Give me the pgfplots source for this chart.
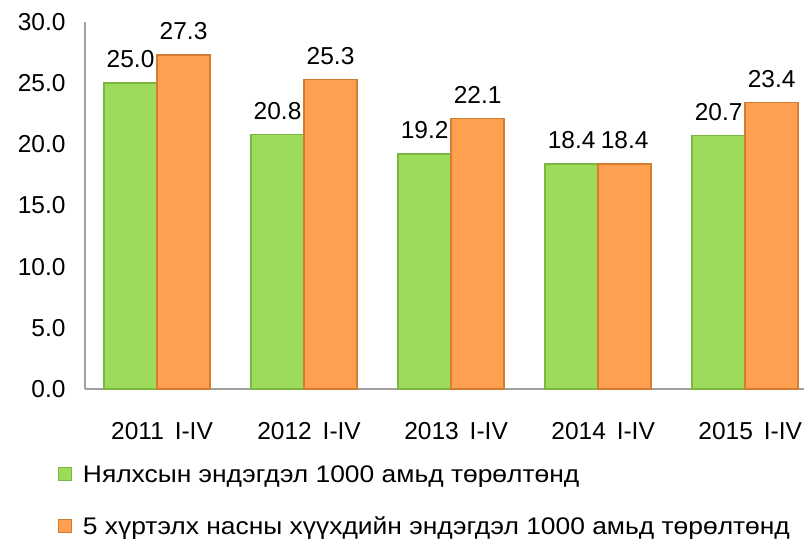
\documentclass[border=0pt]{standalone}
\usepackage{fontspec}
\setmainfont{Liberation Sans}
\newfontfamily\legf{Liberation Sans}[FakeStretch=1.1]
\usepackage{pgfplots}
\pgfplotsset{compat=1.18}
\definecolor{gfill}{HTML}{9CDC5A}
\definecolor{gedge}{HTML}{7AB640}
\definecolor{ofill}{HTML}{FFA050}
\definecolor{oedge}{HTML}{D37C32}
\definecolor{axgray}{HTML}{A0A0A0}
\newcommand{\bigf}{\fontsize{24.5bp}{28bp}\selectfont}
\newcommand{\legfont}{\legf\fontsize{24bp}{27bp}\selectfont}
\begin{document}
\begin{tikzpicture}
\path[use as bounding box] (0bp,0bp) rectangle (806bp,540bp);
\begin{axis}[
  at={(85bp,151bp)}, anchor=south west,
  scale only axis, width=719bp, height=367bp,
  ymin=0, ymax=30, xmin=-0.49, xmax=4.4,
  ybar=0pt, bar width=53bp,
  axis lines*=left,
  axis line style={axgray, line width=1.2bp},
  major tick length=0pt,
  ytick={0,5,...,30},
  xtick={0,1,2,3,4},
  xticklabels={2011 \,I-IV,2012 \,I-IV,2013 \,I-IV,2014 \,I-IV,2015 \,I-IV},
  /pgf/number format/assume math mode=true,
  yticklabel={\pgfmathprintnumber[fixed,fixed zerofill,precision=1]{\tick}},
  ticklabel style={font=\bigf},
  yticklabel style={xshift=-16bp},
  xticklabel style={yshift=-30bp, xshift=5bp},
  nodes near coords={\pgfmathprintnumber[fixed,fixed zerofill,precision=1]{\pgfplotspointmeta}},
  every node near coord/.append style={font=\bigf, black, yshift=11bp},
  legend style={draw=none, fill=none, font=\legfont, at={(-0.0376,-0.203)}, anchor=north west,
    row sep=29bp, column sep=11bp, inner sep=0pt, nodes={inner xsep=0pt}, cells={anchor=west}},
  legend cell align=left,
  legend image code/.code={\draw[#1, line width=0.8bp] (0bp,-6bp) rectangle (13bp,7bp);},
  clip=false,
]
\addplot[draw=gedge, line width=1.4bp, fill=gfill] coordinates {(0,25.0) (1,20.8) (2,19.2) (3,18.4) (4,20.7)};
\addplot[draw=oedge, line width=1.4bp, fill=ofill] coordinates {(0,27.3) (1,25.3) (2,22.1) (3,18.4) (4,23.4)};
\legend{Нялхсын эндэгдэл 1000 амьд төрөлтөнд, 5 хүртэлх насны хүүхдийн эндэгдэл 1000 амьд төрөлтөнд}
\end{axis}
\end{tikzpicture}
\end{document}
